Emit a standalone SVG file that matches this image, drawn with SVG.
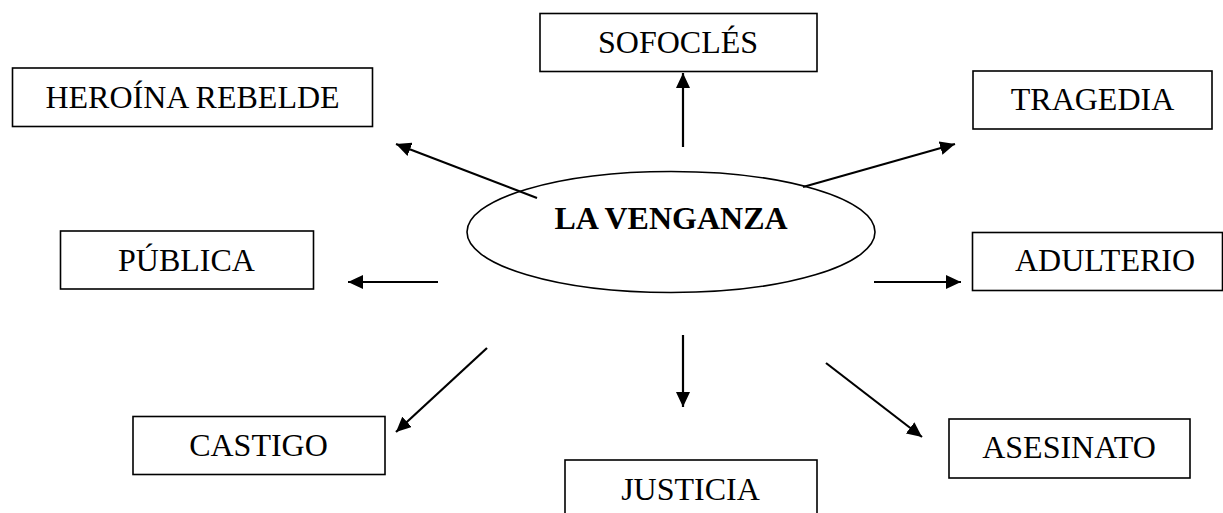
<svg xmlns="http://www.w3.org/2000/svg" width="1223" height="513" viewBox="0 0 1223 513">
<style>
.box{fill:#fff;stroke:#000;stroke-width:1.6}
.lbl{font-family:"Liberation Serif","Times New Roman",serif;font-size:32px;fill:#000;text-anchor:middle}
.bold{font-weight:bold}
.conn{stroke:#000;stroke-width:2.2;fill:none;marker-end:url(#ah)}
</style>
<defs>
<marker id="ah" viewBox="0 0 15 14" refX="15" refY="7" markerWidth="15" markerHeight="14" markerUnits="userSpaceOnUse" orient="auto">
<path d="M0,0 L15,7 L0,14 z" fill="#000"/>
</marker>
</defs>
<rect width="1223" height="513" fill="#fff"/>
<g id="connectors">
<line class="conn" x1="683" y1="147" x2="683" y2="73"/>
<line class="conn" x1="537" y1="198" x2="396" y2="144"/>
<line class="conn" x1="803" y1="187" x2="955" y2="144"/>
<line class="conn" x1="438" y1="282" x2="348" y2="282"/>
<line class="conn" x1="874" y1="282" x2="961" y2="282"/>
<line class="conn" x1="487" y1="348" x2="396" y2="432"/>
<line class="conn" x1="683" y1="335" x2="683" y2="407"/>
<line class="conn" x1="826" y1="363" x2="922" y2="437"/>
</g>
<g id="center">
<ellipse cx="671" cy="232" rx="204" ry="60.5" fill="none" stroke="#000" stroke-width="1.6"/>
<text class="lbl bold" x="671" y="229">LA VENGANZA</text>
</g>
<g id="sofocles">
<rect class="box" x="540" y="13.5" width="277" height="58"/>
<text class="lbl" x="678" y="53">SOFOCLÉS</text>
</g>
<g id="heroina">
<rect class="box" x="12.5" y="68" width="360" height="58.5"/>
<text class="lbl" x="192.5" y="108">HEROÍNA REBELDE</text>
</g>
<g id="tragedia">
<rect class="box" x="973" y="71" width="239" height="58"/>
<text class="lbl" x="1092.5" y="110">TRAGEDIA</text>
</g>
<g id="publica">
<rect class="box" x="60.5" y="231" width="253" height="58"/>
<text class="lbl" x="186.5" y="271">PÚBLICA</text>
</g>
<g id="adulterio">
<rect class="box" x="972.5" y="232.5" width="250" height="58"/>
<text class="lbl" x="1105" y="271">ADULTERIO</text>
</g>
<g id="castigo">
<rect class="box" x="133" y="416.5" width="252" height="58"/>
<text class="lbl" x="258.5" y="456">CASTIGO</text>
</g>
<g id="justicia">
<rect class="box" x="565" y="460" width="252" height="70"/>
<text class="lbl" x="690.5" y="500">JUSTICIA</text>
</g>
<g id="asesinato">
<rect class="box" x="949" y="419" width="241" height="59"/>
<text class="lbl" x="1069" y="458">ASESINATO</text>
</g>
</svg>
